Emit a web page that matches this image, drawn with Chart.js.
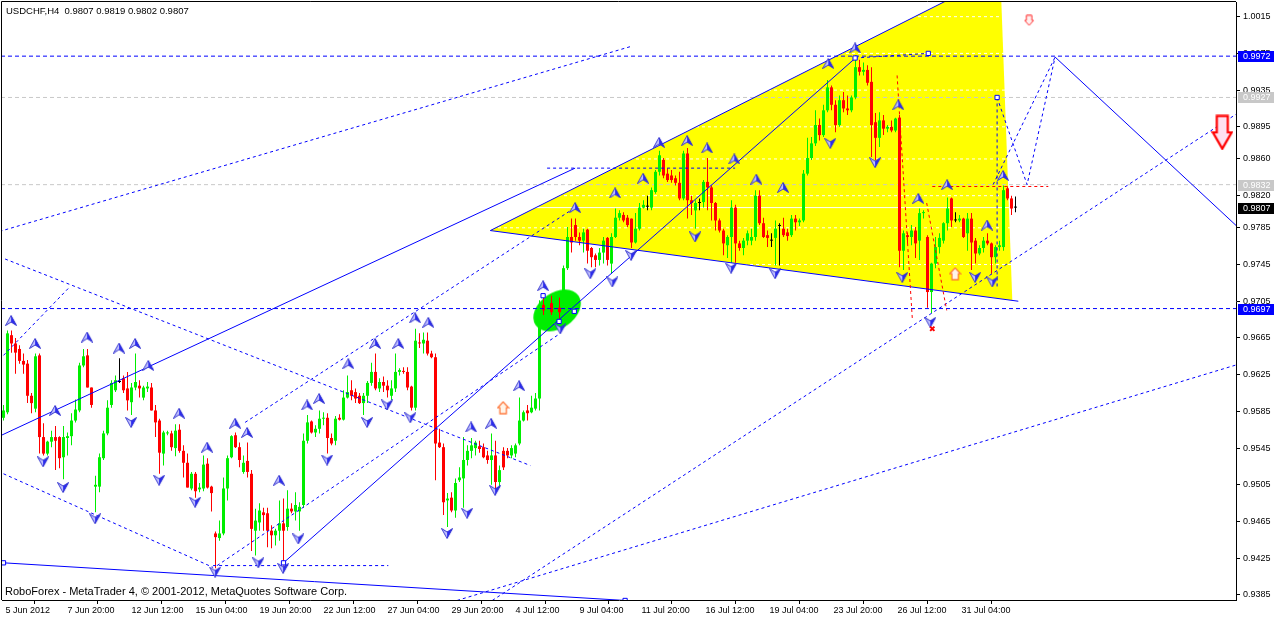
<!DOCTYPE html>
<html><head><meta charset="utf-8">
<script src="https://cdn.jsdelivr.net/npm/chart.js@4.4.1/dist/chart.umd.min.js"></script>
<style>html,body{margin:0;padding:0;background:#fff;overflow:hidden}canvas{display:block}</style>
</head><body>
<canvas id="c" width="1274" height="618"></canvas>
<script>
const TITLE = 'USDCHF,H4  0.9807 0.9819 0.9802 0.9807';
const COPYRIGHT = 'RoboForex - MetaTrader 4, \u00a9 2001-2012, MetaQuotes Software Corp.';
const X_TICK_BARS = [0,15.5,31.5,47.5,63.5,79.5,95.5,111.5,127.5,143.5,159,175,191,207,223,239];
const X_LABELS = ['5 Jun 2012','7 Jun 20:00','12 Jun 12:00','15 Jun 04:00','19 Jun 20:00','22 Jun 12:00','27 Jun 04:00','29 Jun 20:00','4 Jul 12:00','9 Jul 04:00','11 Jul 20:00','16 Jul 12:00','19 Jul 04:00','23 Jul 20:00','26 Jul 12:00','31 Jul 04:00'];
const Y_TICKS = [1.0015,0.9975,0.9935,0.9895,0.9860,0.9820,0.9785,0.9745,0.9705,0.9665,0.9625,0.9585,0.9545,0.9505,0.9465,0.9425,0.9385];

const OPEN = [0.9578,0.9584,0.9668,0.9659,0.9653,0.9640,0.9637,0.9602,0.9588,0.9646,
0.9557,0.9539,0.9552,0.9557,0.9557,0.9535,0.9556,0.9558,0.9575,0.9586,
0.9635,0.9646,0.9611,0.9503,0.9503,0.9534,0.9561,0.9592,0.9608,0.9617,
0.9621,0.9610,0.9595,0.9611,0.9613,0.9600,0.9610,0.9611,0.9586,0.9575,
0.9539,0.9561,0.9561,0.9545,0.9565,0.9542,0.9529,0.9501,0.9517,0.9500,
0.9501,0.9528,0.9503,0.9452,0.9447,0.9452,0.9501,0.9535,0.9559,0.9546,
0.9519,0.9531,0.9517,0.9455,0.9464,0.9475,0.9474,0.9455,0.9450,0.9455,
0.9463,0.9459,0.9479,0.9476,0.9476,0.9483,0.9553,0.9574,0.9562,0.9566,
0.9577,0.9578,0.9556,0.9553,0.9578,0.9576,0.9600,0.9608,0.9606,0.9602,
0.9594,0.9602,0.9616,0.9628,0.9610,0.9617,0.9613,0.9602,0.9610,0.9628,
0.9629,0.9628,0.9612,0.9589,0.9660,0.9659,0.9662,0.9648,0.9644,0.9551,
0.9546,0.9488,0.9491,0.9477,0.9510,0.9512,0.9532,0.9542,0.9545,0.9547,
0.9546,0.9537,0.9532,0.9537,0.9508,0.9542,0.9542,0.9537,0.9539,0.9550,
0.9575,0.9586,0.9584,0.9588,0.9599,0.9701,0.9695,0.9703,0.9693,0.9698,
0.9693,0.9741,0.9775,0.9788,0.9775,0.9771,0.9783,0.9763,0.9755,0.9750,
0.9758,0.9774,0.9746,0.9775,0.9796,0.9799,0.9796,0.9795,0.9769,0.9784,
0.9807,0.9808,0.9807,0.9824,0.9846,0.9859,0.9844,0.9842,0.9839,0.9834,
0.9817,0.9866,0.9815,0.9804,0.9812,0.9813,0.9835,0.9829,0.9812,0.9793,
0.9782,0.9766,0.9775,0.9807,0.9768,0.9763,0.9771,0.9771,0.9775,0.9820,
0.9790,0.9777,0.9771,0.9774,0.9787,0.9784,0.9780,0.9777,0.9795,0.9791,
0.9793,0.9844,0.9861,0.9877,0.9897,0.9886,0.9913,0.9938,0.9919,0.9897,
0.9924,0.9915,0.9913,0.9927,0.9960,0.9955,0.9957,0.9944,0.9900,0.9883,
0.9902,0.9893,0.9895,0.9891,0.9905,0.9760,0.9777,0.9775,0.9782,0.9771,
0.9801,0.9775,0.9715,0.9746,0.9764,0.9771,0.9790,0.9817,0.9793,0.9793,
0.9795,0.9779,0.9795,0.9771,0.9757,0.9763,0.9771,0.9768,0.9753,0.9764,
0.9764,0.9828,0.9817,0.9807];
const HIGH = [0.9592,0.9673,0.9673,0.9665,0.9657,0.9648,0.9641,0.9605,0.9648,0.9648,
0.9572,0.9553,0.9564,0.9569,0.9558,0.9569,0.9562,0.9583,0.9598,0.9638,
0.9653,0.9653,0.9611,0.9515,0.9539,0.9564,0.9597,0.9619,0.9624,0.9643,
0.9624,0.9628,0.9616,0.9648,0.9619,0.9613,0.9617,0.9616,0.9592,0.9577,
0.9564,0.9564,0.9564,0.9571,0.9571,0.9548,0.9539,0.9519,0.9519,0.9507,
0.9537,0.9534,0.9504,0.9454,0.9466,0.9513,0.9537,0.9559,0.9562,0.9551,
0.9537,0.9551,0.9521,0.9479,0.9485,0.9480,0.9480,0.9461,0.9457,0.9488,
0.9490,0.9499,0.9485,0.9497,0.9486,0.9561,0.9581,0.9575,0.9570,0.9586,
0.9584,0.9583,0.9561,0.9580,0.9582,0.9608,0.9624,0.9619,0.9610,0.9605,
0.9605,0.9618,0.9638,0.9648,0.9621,0.9623,0.9619,0.9619,0.9648,0.9632,
0.9633,0.9633,0.9613,0.9675,0.9670,0.9671,0.9671,0.9651,0.9648,0.9566,
0.9550,0.9496,0.9497,0.9512,0.9524,0.9557,0.9548,0.9556,0.9553,0.9553,
0.9550,0.9542,0.9561,0.9553,0.9526,0.9546,0.9545,0.9548,0.9550,0.9600,
0.9586,0.9592,0.9602,0.9605,0.9706,0.9711,0.9706,0.9711,0.9706,0.9709,
0.9744,0.9786,0.9795,0.9795,0.9780,0.9784,0.9784,0.9764,0.9757,0.9763,
0.9775,0.9775,0.9779,0.9806,0.9804,0.9802,0.9799,0.9795,0.9801,0.9812,
0.9815,0.9820,0.9829,0.9848,0.9869,0.9861,0.9850,0.9848,0.9842,0.9846,
0.9869,0.9872,0.9820,0.9815,0.9817,0.9837,0.9861,0.9831,0.9813,0.9795,
0.9784,0.9777,0.9815,0.9810,0.9771,0.9774,0.9782,0.9784,0.9826,0.9826,
0.9796,0.9782,0.9779,0.9793,0.9790,0.9796,0.9784,0.9799,0.9799,0.9795,
0.9848,0.9883,0.9884,0.9913,0.9904,0.9919,0.9946,0.9940,0.9924,0.9929,
0.9933,0.9929,0.9929,0.9973,0.9968,0.9965,0.9962,0.9960,0.9910,0.9911,
0.9908,0.9897,0.9902,0.9905,0.9908,0.9782,0.9780,0.9788,0.9786,0.9806,
0.9804,0.9777,0.9747,0.9775,0.9779,0.9791,0.9818,0.9818,0.9802,0.9799,
0.9796,0.9801,0.9801,0.9774,0.9766,0.9775,0.9779,0.9769,0.9766,0.9771,
0.9831,0.9830,0.9820,0.9819];
const LOW = [0.9575,0.9582,0.9649,0.9626,0.9637,0.9626,0.9594,0.9583,0.9584,0.9539,
0.9537,0.9537,0.9546,0.9521,0.9523,0.9511,0.9537,0.9548,0.9573,0.9584,
0.9633,0.9611,0.9589,0.9475,0.9497,0.9532,0.9559,0.9589,0.9606,0.9616,
0.9605,0.9586,0.9581,0.9608,0.9600,0.9597,0.9606,0.9586,0.9557,0.9517,
0.9526,0.9559,0.9542,0.9536,0.9540,0.9513,0.9502,0.9499,0.9491,0.9497,
0.9498,0.9501,0.9476,0.9414,0.9444,0.9450,0.9488,0.9534,0.9545,0.9524,
0.9517,0.9513,0.9433,0.9428,0.9455,0.9455,0.9437,0.9436,0.9439,0.9444,
0.9417,0.9455,0.9474,0.9466,0.9455,0.9480,0.9550,0.9561,0.9557,0.9561,
0.9570,0.9539,0.9548,0.9548,0.9575,0.9575,0.9599,0.9597,0.9594,0.9593,
0.9581,0.9594,0.9613,0.9608,0.9606,0.9606,0.9600,0.9597,0.9606,0.9624,
0.9626,0.9608,0.9586,0.9586,0.9654,0.9648,0.9646,0.9643,0.9510,0.9545,
0.9472,0.9459,0.9475,0.9469,0.9508,0.9480,0.9526,0.9534,0.9537,0.9540,
0.9534,0.9528,0.9505,0.9497,0.9502,0.9521,0.9534,0.9534,0.9535,0.9548,
0.9574,0.9575,0.9583,0.9586,0.9586,0.9690,0.9684,0.9690,0.9684,0.9686,
0.9686,0.9739,0.9758,0.9771,0.9766,0.9758,0.9746,0.9742,0.9742,0.9744,
0.9746,0.9744,0.9735,0.9774,0.9793,0.9791,0.9786,0.9763,0.9768,0.9782,
0.9806,0.9804,0.9804,0.9822,0.9842,0.9839,0.9835,0.9834,0.9831,0.9815,
0.9815,0.9795,0.9799,0.9784,0.9804,0.9807,0.9804,0.9793,0.9782,0.9780,
0.9755,0.9752,0.9747,0.9747,0.9760,0.9755,0.9766,0.9766,0.9771,0.9788,
0.9774,0.9764,0.9764,0.9744,0.9744,0.9775,0.9771,0.9775,0.9782,0.9787,
0.9791,0.9842,0.9859,0.9874,0.9880,0.9884,0.9911,0.9913,0.9889,0.9895,
0.9911,0.9908,0.9911,0.9925,0.9951,0.9951,0.9940,0.9862,0.9859,0.9873,
0.9886,0.9889,0.9889,0.9889,0.9742,0.9739,0.9768,0.9766,0.9752,0.9750,
0.9795,0.9698,0.9692,0.9741,0.9757,0.9768,0.9782,0.9786,0.9791,0.9791,
0.9774,0.9760,0.9739,0.9746,0.9755,0.9758,0.9766,0.9735,0.9746,0.9760,
0.9760,0.9815,0.9799,0.9802];
const CLOSE = [0.9586,0.9670,0.9659,0.9649,0.9640,0.9636,0.9602,0.9594,0.9645,0.9557,
0.9539,0.9552,0.9557,0.9553,0.9534,0.9557,0.9558,0.9575,0.9587,0.9635,
0.9645,0.9611,0.9592,0.9505,0.9535,0.9561,0.9589,0.9616,0.9619,0.9617,
0.9608,0.9597,0.9611,0.9617,0.9610,0.9611,0.9612,0.9586,0.9573,0.9540,
0.9562,0.9562,0.9546,0.9564,0.9542,0.9529,0.9502,0.9517,0.9498,0.9502,
0.9527,0.9502,0.9496,0.9448,0.9452,0.9501,0.9534,0.9558,0.9546,0.9532,
0.9529,0.9519,0.9457,0.9466,0.9477,0.9472,0.9455,0.9450,0.9455,0.9463,
0.9455,0.9479,0.9476,0.9483,0.9481,0.9553,0.9573,0.9562,0.9566,0.9577,
0.9578,0.9556,0.9550,0.9577,0.9576,0.9600,0.9606,0.9602,0.9599,0.9594,
0.9602,0.9616,0.9628,0.9610,0.9617,0.9613,0.9608,0.9610,0.9628,0.9630,
0.9628,0.9611,0.9589,0.9662,0.9659,0.9663,0.9648,0.9644,0.9550,0.9546,
0.9486,0.9490,0.9477,0.9507,0.9513,0.9532,0.9542,0.9548,0.9551,0.9544,
0.9535,0.9532,0.9537,0.9508,0.9521,0.9524,0.9537,0.9545,0.9548,0.9575,
0.9584,0.9583,0.9589,0.9599,0.9701,0.9695,0.9703,0.9693,0.9701,0.9693,
0.9741,0.9775,0.9769,0.9775,0.9771,0.9780,0.9760,0.9753,0.9750,0.9758,
0.9771,0.9750,0.9775,0.9796,0.9801,0.9793,0.9788,0.9769,0.9784,0.9807,
0.9810,0.9808,0.9826,0.9846,0.9864,0.9842,0.9837,0.9837,0.9834,0.9817,
0.9866,0.9815,0.9812,0.9812,0.9812,0.9835,0.9829,0.9812,0.9793,0.9782,
0.9768,0.9775,0.9807,0.9768,0.9763,0.9771,0.9779,0.9775,0.9820,0.9790,
0.9775,0.9774,0.9771,0.9784,0.9787,0.9777,0.9776,0.9795,0.9791,0.9793,
0.9844,0.9861,0.9877,0.9897,0.9886,0.9913,0.9938,0.9919,0.9897,0.9924,
0.9915,0.9913,0.9927,0.9960,0.9955,0.9957,0.9943,0.9897,0.9883,0.9902,
0.9893,0.9895,0.9891,0.9904,0.9760,0.9779,0.9775,0.9782,0.9768,0.9801,
0.9802,0.9715,0.9746,0.9764,0.9774,0.9790,0.9806,0.9793,0.9793,0.9795,
0.9775,0.9795,0.9769,0.9757,0.9763,0.9771,0.9768,0.9753,0.9764,0.9766,
0.9826,0.9817,0.9806,0.9807];

// horizontal levels
const BLUE_LEVELS = [0.9972, 0.9697];
const GRAY_LEVELS = [0.9927, 0.9832];
const BID = [0.9807];
const LEVEL_BOXES = [
  {v:0.9972, bg:'#0000ff'}, {v:0.9927, bg:'#c8c8c8'}, {v:0.9832, bg:'#c8c8c8'},
  {v:0.9807, bg:'#000000'}, {v:0.9697, bg:'#0000ff'}
];
// yellow triangle vertices [bar, price]
const YELLOW_TRI = [[121.7,0.9782],[249.2,1.0062],[252.2,0.9706]];
// solid blue trend lines [bar1, price1, bar2, price2, ...]
const SOLID_LINES = [
  [-1,0.9558, 142.9,0.9850],
  [70,0.9420, 213,0.9970],
  [121.7,0.9782, 249.2,1.0062],
  [121.7,0.9782, 253.7,0.9705],
  [0,0.9420, 155.4,0.9379],
  [262.9,0.9971, 310,0.9780]
];
const DASHED_LINES = [
  [-1,0.9781, 157.2,0.9983],
  [0.4,0.9751, 131.7,0.9526],
  [0,0.9517, 52.4,0.9415],
  [52.4,0.9417, 96.2,0.9417],
  [53.4,0.9417, 139.2,0.9670],
  [60.4,0.9573, 142.9,0.9807],
  [0,0.9646, 16.2,0.9719],
  [135.9,0.9850, 182.9,0.9850],
  [122.2,0.9379, 310,0.9914],
  [113.4,0.9379, 310,0.9638],
  [248.4,0.9927, 255.9,0.9832, 262.9,0.9971],
  [247.4,0.9832, 262.9,0.9971],
  [248.4,0.9927, 248.4,0.9720],
  [212.9,0.9970, 231.2,0.9975]
];
const RED_DASHED = [
  [232.2,0.9830, 261.2,0.9830],
  [223.4,0.9951, 227.2,0.9686],
  [230.8,0.9812, 235.8,0.9695]
];
// fractal arrows [bar, price]
const FRACT_UP = [[1.9,0.9684],[7.9,0.9659],[12.9,0.9586],[20.9,0.9666],[28.9,0.9654],[32.9,0.9659],[36.2,0.9635],[43.9,0.9583],[50.9,0.9546],[57.9,0.9572],[60.9,0.9562],[68.9,0.9510],[75.9,0.9592],[78.9,0.9599],[86.2,0.9637],[92.9,0.9659],[98.7,0.9659],[102.9,0.9687],[106.2,0.9682],[116.9,0.9568],[121.9,0.9572],[128.9,0.9613],[134.9,0.9722],[142.9,0.9807],[152.9,0.9823],[159.9,0.9839],[163.9,0.9878],[170.9,0.9880],[175.9,0.9872],[182.7,0.9860],[188.2,0.9838],[194.9,0.9829],[206.2,0.9964],[212.9,0.9981],[223.7,0.9919],[228.7,0.9817],[235.9,0.9832],[245.9,0.9788],[249.9,0.9842]];
const FRACT_DN = [[9.9,0.9530],[14.9,0.9502],[22.9,0.9468],[31.9,0.9573],[38.9,0.9510],[47.9,0.9486],[52.9,0.9410],[63.7,0.9420],[69.9,0.9414],[73.7,0.9446],[80.9,0.9532],[90.9,0.9573],[95.9,0.9592],[101.7,0.9578],[110.9,0.9452],[115.9,0.9474],[122.9,0.9499],[139.2,0.9675],[146.7,0.9735],[152.2,0.9726],[156.9,0.9755],[172.9,0.9775],[181.9,0.9741],[192.9,0.9735],[206.7,0.9877],[217.9,0.9856],[224.7,0.9731],[231.7,0.9682],[242.9,0.9731],[247.2,0.9726]];
const ORANGE_UP = [[124.9,0.9589],[237.9,0.9735]];
const RED_DOWN_SMALL = [[256.4,1.0011]];
const RED_DOWN_BIG = [[304.7,0.9889]];
const BLOB = [[138.4,0.9695]];
const SQUARES = [[0,0.9420],[155.4,0.9379],[70,0.9420],[212.9,0.9970],[231.2,0.9975],[248.4,0.9927],[134.9,0.9711],[138.9,0.9683],[142.7,0.9694]];
const RED_X = [[232.2,0.9675]];

const FONT = '"Liberation Sans", Arial, sans-serif';
const X_MIN = -0.375, X_MAX = 308.125, Y_MIN = 0.93795, Y_MAX = 1.0031;
const BULL = '#00ee00', BEAR = '#ff0000', DOJI = '#000000', BLUE = '#0000ff';

function poly(list){ const d=[]; list.forEach(s=>{ for(let k=0;k<s.length;k+=2) d.push({x:s[k],y:s[k+1]}); d.push({x:s[s.length-2],y:null}); }); return d; }
function hlines(vals){ return poly(vals.map(v=>[X_MIN-2,v,X_MAX+2,v])); }
function lineDS(data,color,dash,order,width){ return {type:'line',data,borderColor:color,borderWidth:width||1,borderDash:dash||[],pointRadius:0,pointHitRadius:0,fill:false,tension:0,spanGaps:false,order}; }
function ptsDS(pts,style,order,extra){ return Object.assign({type:'line',data:pts.map(p=>({x:p[0],y:p[1]})),showLine:false,pointStyle:style,pointRadius:6,order},extra||{}); }

function arrowCanvas(up){
  const c=document.createElement('canvas'); c.width=12; c.height=11; const g=c.getContext('2d');
  const t=up?0.5:10.5, b=up?10.5:0.5, n=up?7:4;
  g.beginPath(); g.moveTo(6,t); g.lineTo(6,n); g.lineTo(0.5,b); g.closePath(); g.fillStyle='#c4c4ff'; g.fill();
  g.beginPath(); g.moveTo(6,t); g.lineTo(11.5,b); g.lineTo(6,n); g.closePath(); g.fillStyle='#2a2af0'; g.fill();
  g.beginPath(); g.moveTo(6,t); g.lineTo(11.5,b); g.lineTo(6,n); g.lineTo(0.5,b); g.closePath(); g.strokeStyle='#3434d0'; g.lineWidth=1; g.stroke();
  return c;
}
function blockArrow(w,h,up,stroke,fill,lw){
  const c=document.createElement('canvas'); c.width=w; c.height=h; const g=c.getContext('2d');
  const m=lw/2+0.5, sw=w*0.25, hy=h*0.5;
  let p=[[w/2-sw,m],[w/2+sw,m],[w/2+sw,hy],[w-m,hy],[w/2,h-m],[m,hy],[w/2-sw,hy]];
  if(up) p=p.map(q=>[q[0],h-q[1]]);
  g.beginPath(); p.forEach((q,i)=>i?g.lineTo(q[0],q[1]):g.moveTo(q[0],q[1])); g.closePath();
  g.fillStyle=fill; g.fill(); g.strokeStyle=stroke; g.lineWidth=lw; g.stroke();
  return c;
}
function blobCanvas(){
  const c=document.createElement('canvas'); c.width=54; c.height=50; const g=c.getContext('2d');
  g.translate(27,25); g.rotate(-0.6); g.beginPath(); g.ellipse(0,0,26,18,0,0,Math.PI*2); g.fillStyle='#00ee00'; g.fill();
  return c;
}

const colors = OPEN.map((o,i)=> CLOSE[i]>o ? BULL : (CLOSE[i]<o ? BEAR : DOJI));
const wickData = OPEN.map((o,i)=>({x:i, y:[LOW[i],HIGH[i]]}));
const bodyData = OPEN.map((o,i)=>({x:i, y:[o,CLOSE[i]]}));

const datasets = [
  {type:'line', data:YELLOW_TRI.map(p=>({x:p[0],y:p[1]})), borderWidth:0, borderColor:'rgba(0,0,0,0)', backgroundColor:'#ffff00', fill:'shape', pointRadius:0, tension:0, order:100},
  lineDS(hlines(Y_TICKS), '#ffffff', [3,3], 95),
  lineDS(hlines(BID), '#ffffff', [], 94),
  lineDS(hlines(GRAY_LEVELS), '#c8c8c8', [4,3], 93),
  ptsDS(BLOB, blobCanvas(), 80, {pointRadius:20}),
  {type:'bar', data:wickData, backgroundColor:colors, barThickness:1, grouped:false, inflateAmount:0, borderWidth:0, order:60},
  {type:'bar', data:bodyData, backgroundColor:colors, barThickness:3, minBarLength:1, grouped:false, inflateAmount:0, borderWidth:0, order:59},
  lineDS(hlines(BLUE_LEVELS), BLUE, [4,3], 50),
  lineDS(poly(SOLID_LINES), BLUE, [], 45),
  lineDS(poly(DASHED_LINES), BLUE, [3,3], 44),
  lineDS(poly(RED_DASHED), '#ff0000', [3,3], 43),
  ptsDS(SQUARES, 'rect', 30, {pointRadius:3, pointBorderColor:BLUE, pointBackgroundColor:'#ffffff', pointBorderWidth:1}),
  ptsDS(FRACT_UP, arrowCanvas(true), 20),
  ptsDS(FRACT_DN, arrowCanvas(false), 20),
  ptsDS(ORANGE_UP, blockArrow(13,14,true,'#ff7030','#fff4e8',1.2), 19),
  ptsDS(RED_DOWN_SMALL, blockArrow(11,12,false,'#ff3030','#fff0f0',1), 19),
  ptsDS(RED_DOWN_BIG, blockArrow(22,36,false,'#ff0000','#ffe0f0',2.2), 19),
  ptsDS(RED_X, 'crossRot', 18, {pointRadius:3, pointBorderColor:'#ff0000', pointBorderWidth:2})
];

const overlay = {
  id:'overlay',
  afterDraw(chart){
    const {ctx, chartArea:a} = chart; const y = chart.scales.y;
    ctx.save();
    ctx.strokeStyle='#000'; ctx.lineWidth=1;
    ctx.beginPath(); ctx.moveTo(a.left-0.5,a.top-0.5); ctx.lineTo(a.right,a.top-0.5);
    ctx.moveTo(a.left-0.5,a.top-0.5); ctx.lineTo(a.left-0.5,a.bottom); ctx.stroke();
    ctx.font='9px '+FONT; ctx.textBaseline='middle'; ctx.textAlign='left';
    LEVEL_BOXES.forEach(b=>{
      const py = Math.round(y.getPixelForValue(b.v));
      ctx.fillStyle=b.bg; ctx.fillRect(a.right+2, py-5, 36, 11);
      ctx.fillStyle='#ffffff'; ctx.fillText(b.v.toFixed(4), a.right+7, py+0.5);
    });
    ctx.fillStyle='#000';
    ctx.font='9.5px '+FONT; ctx.fillText(TITLE, 6, 11);
    ctx.font='11px '+FONT; ctx.fillText(COPYRIGHT, 5, 592);
    ctx.restore();
  }
};

new Chart(document.getElementById('c'), {
  type:'bar',
  data:{datasets},
  options:{
    responsive:false, animation:false, events:[], devicePixelRatio:1,
    layout:{autoPadding:false, padding:{left:2, top:2, right:0, bottom:0}},
    plugins:{legend:{display:false}, tooltip:{enabled:false}},
    scales:{
      x:{type:'linear', position:'bottom', min:X_MIN, max:X_MAX, offset:false,
        grid:{display:true, drawOnChartArea:false, drawTicks:true, tickLength:4, tickColor:'#000'},
        border:{display:true, color:'#000'},
        afterBuildTicks:(s)=>{ s.ticks = X_TICK_BARS.map(v=>({value:v})); },
        afterFit:(s)=>{ s.height = 18; s.paddingLeft = 0; s.paddingRight = 0; },
        ticks:{autoSkip:false, maxRotation:0, minRotation:0, align:'start', labelOffset:2, padding:1, color:'#000', font:{family:FONT, size:9},
          callback:(v,i)=>X_LABELS[i]}
      },
      y:{type:'linear', position:'right', min:Y_MIN, max:Y_MAX, beginAtZero:false,
        grid:{display:true, drawOnChartArea:false, drawTicks:true, tickLength:4, tickColor:'#000'},
        border:{display:true, color:'#000'},
        afterBuildTicks:(s)=>{ s.ticks = Y_TICKS.map(v=>({value:v})); },
        afterFit:(s)=>{ s.width = 38; s.paddingTop = 0; s.paddingBottom = 0; },
        ticks:{autoSkip:false, padding:3, color:'#000', font:{family:FONT, size:9}, callback:(v)=>Number(v).toFixed(4)}
      }
    }
  },
  plugins:[overlay]
});
</script>
</body></html>
